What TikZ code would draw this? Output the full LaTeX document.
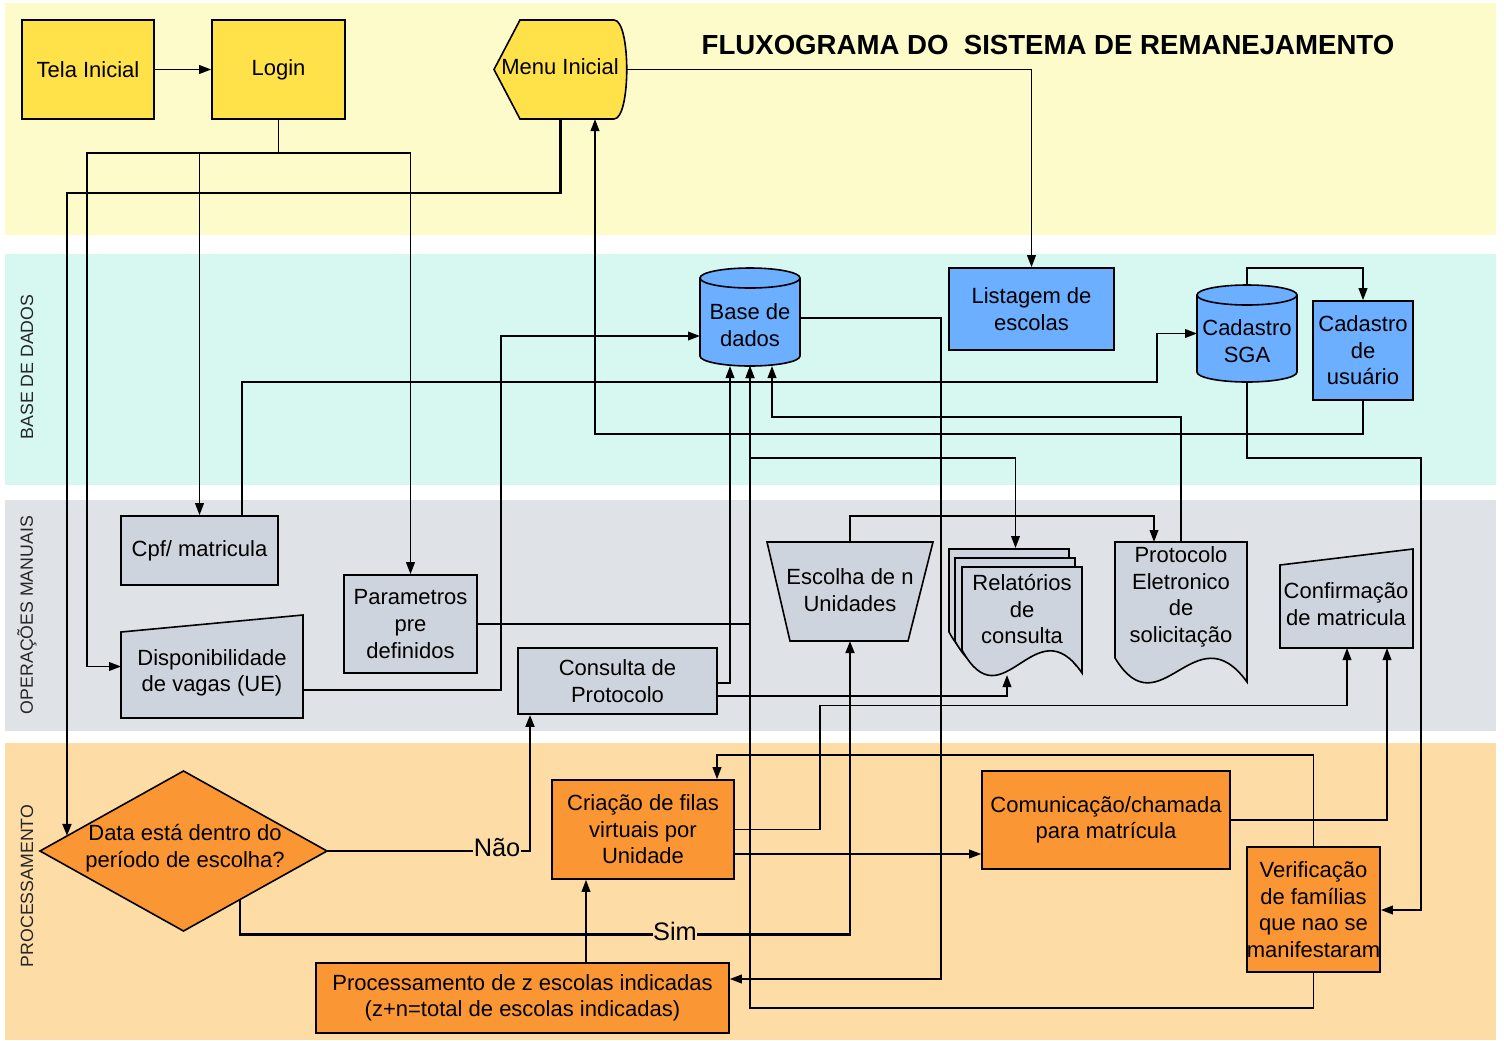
\documentclass[tikz,border=0pt]{standalone}
\usepackage{fontspec}
\setmainfont{Liberation Sans}
\usetikzlibrary{arrows.meta,calc}
\definecolor{bandY}{HTML}{FDFBC9}
\definecolor{nodeY}{HTML}{FFE14A}
\definecolor{bandC}{HTML}{D6F8F1}
\definecolor{nodeB}{HTML}{6CAEFF}
\definecolor{bandG}{HTML}{DFE2E7}
\definecolor{nodeG}{HTML}{CED4DD}
\definecolor{bandO}{HTML}{FEDCA6}
\definecolor{nodeO}{HTML}{FB9634}
\newcommand\dnfont{\fontsize{16.5}{19.9}\selectfont}
\begin{document}
\begin{tikzpicture}[x=0.75pt,y=-0.75pt,
  ln/.style={draw=black,line width=1.25pt},
  arr/.style={ln,-{Triangle[length=9pt,width=6.5pt]}},
  tk/.style={line width=1.9pt},
  shp/.style={draw=black,line width=1.2pt},
  sz/.style 2 args={minimum width=#1*0.75pt,minimum height=#2*0.75pt},
  rbox/.style={shp,rectangle,inner sep=0pt,align=center,font=\dnfont},
  bb/.style={rectangle,inner sep=0pt,outer sep=0pt},
  txt/.style={align=center,font=\dnfont,inner sep=0pt},
  band/.style={rotate=90,font=\fontsize{13.3}{16}\selectfont,inner sep=0pt,text=black!85},
  yn/.style={fill=bandO,font=\fontsize{19}{22}\selectfont,inner sep=0.5pt}
]
\useasboundingbox (0,0) rectangle (1504,1040);
\fill[white] (0,0) rectangle (1504,1040);
\fill[bandY] (5,3) rectangle (1496,235);
\fill[bandC] (5,254) rectangle (1496,485);
\fill[bandG] (5,500) rectangle (1496,731);
\fill[bandO] (5,743) rectangle (1496,1040);

\node[band] (lbBD) at (27,367) {BASE DE DADOS};
\node[band] (lbOM) at (27,615) {OPERAÇÕES MANUAIS};
\node[band] (lbPR) at (27,886) {PROCESSAMENTO};

\node[font=\bfseries\fontsize{20.7}{24}\selectfont,inner sep=0pt] (title) at (1048,45) {FLUXOGRAMA DO~ SISTEMA DE REMANEJAMENTO};

% rectangle nodes
\node[rbox,fill=nodeY,sz={132}{99}] (tela) at (88,69.5) {Tela Inicial};
\node[rbox,fill=nodeY,sz={133}{99}] (login) at (278.5,69.5) {Login};
\node[rbox,fill=nodeB,sz={165}{82}] (list) at (1031.5,309) {Listagem de\\escolas};
\node[rbox,fill=nodeB,sz={100}{99}] (cadu) at (1363,350.5) {Cadastro\\de\\usuário};
\node[rbox,fill=nodeG,sz={157}{69}] (cpf) at (199.5,550.5) {Cpf/ matricula};
\node[rbox,fill=nodeG,sz={133}{98}] (param) at (410.5,624) {Parametros\\pre\\definidos};
\node[rbox,fill=nodeG,sz={199}{66}] (cons) at (617.5,681) {Consulta de\\Protocolo};
\node[rbox,fill=nodeO,sz={182}{99}] (cria) at (643,829.5) {Criação de filas\\virtuais por\\Unidade};
\node[rbox,fill=nodeO,sz={248}{98}] (com) at (1106,820) {Comunicação/chamada\\para matrícula};
\node[rbox,fill=nodeO,sz={133}{125}] (verif) at (1313.5,909.5) {Verificação\\de famílias\\que nao se\\manifestaram};
\node[rbox,fill=nodeO,sz={413}{70}] (proc) at (522.5,998) {Processamento de z escolas indicadas\\(z+n=total de escolas indicadas)};

% bounding nodes of custom shapes
\node[bb,sz={133}{99}] (menu) at (560.5,69.5) {};
\node[bb,sz={100}{98}] (base) at (750,317) {};
\node[bb,sz={100}{97}] (sga) at (1247,333.5) {};
\node[bb,sz={182}{103}] (disp) at (212,666.5) {};
\node[bb,sz={166}{99}] (esc) at (850,591.5) {};
\node[bb,sz={133}{127}] (rel) at (1015.5,611.5) {};
\node[bb,sz={132}{140}] (prot) at (1181,612) {};
\node[bb,sz={133}{99}] (conf) at (1346.5,598.5) {};
\node[bb,sz={287}{160}] (dia) at (183.5,851) {};

% custom shapes
\filldraw[shp,fill=nodeY] (menu.west) -- (520,20) -- (614,20) .. controls (631,20) and (631,119) .. (614,119) -- (520,119) -- cycle;
\filldraw[shp,fill=nodeB] (700,278) -- (700,356) arc[start angle=180,end angle=0,x radius=50,y radius=10] -- (800,278) arc[start angle=0,end angle=-180,x radius=50,y radius=10] -- cycle;
\draw[shp] (700,278) arc[start angle=180,end angle=0,x radius=50,y radius=10];
\filldraw[shp,fill=nodeB] (1197,295) -- (1197,372) arc[start angle=180,end angle=0,x radius=50,y radius=10] -- (1297,295) arc[start angle=0,end angle=-180,x radius=50,y radius=10] -- cycle;
\draw[shp] (1197,295) arc[start angle=180,end angle=0,x radius=50,y radius=10];
\filldraw[shp,fill=nodeG] (disp.south west) -- (121,632) -- (disp.north east) -- (disp.south east) -- cycle;
\filldraw[shp,fill=nodeG] (conf.south west) -- (1280,565) -- (conf.north east) -- (conf.south east) -- cycle;
\filldraw[shp,fill=nodeG] (767,542) -- (933,542) -- (908,641) -- (790,641) -- cycle;
\filldraw[shp,fill=nodeG] (949,632) -- (949,549) -- (1069,549) -- (1069,655) .. controls (1022,586) and (990,707) .. (949,632) -- cycle;
\filldraw[shp,fill=nodeG] (955,641) -- (955,558) -- (1075,558) -- (1075,664) .. controls (1028,595) and (996,716) .. (955,641) -- cycle;
\filldraw[shp,fill=nodeG] (962,650) -- (962,567) -- (1082,567) -- (1082,673) .. controls (1035,604) and (1003,725) .. (962,650) -- cycle;
\filldraw[shp,fill=nodeG] (1115,658) -- (1115,542) -- (1247,542) -- (1247,682) .. controls (1195,610) and (1160,732) .. (1115,658) -- cycle;
\filldraw[shp,fill=nodeO] (dia.west) -- (dia.north) -- (dia.east) -- (dia.south) -- cycle;

% texts of custom shapes
\node[txt] (menuT) at (560,67) {Menu Inicial};
\node[txt] (baseT) at (750,325) {Base de\\dados};
\node[txt] (sgaT) at (1247,341) {Cadastro\\SGA};
\node[txt] (dispT) at (212,673) {Disponibilidade\\de vagas (UE)};
\node[txt] (escT) at (850,590) {Escolha de n\\Unidades};
\node[txt] (relT) at (1022,609) {Relatórios\\de\\consulta};
\node[txt] (protT) at (1181,597) {Protocolo\\Eletronico\\de\\solicitação};
\node[txt] (confT) at (1346,604) {Confirmação\\de matricula};
\node[txt] (diaT) at (185,848) {Data está dentro do\\período de escolha?};

% connectors
\coordinate (diaIn) at ($(dia.west)!0.188!(dia.north)$);
\coordinate (diaOut) at ($(dia.south)!0.395!(dia.east)$);
\draw[arr] (tela) -- (login);
\draw[arr] (login.south) -- ++(0,33) -| (cpf.north);
\draw[arr] (login.south) -- ++(0,33) -| (param.north);
\draw[arr] (login.south) -- ++(0,33) -- ++(-191.5,0) |- (disp.west);
\draw[arr,tk] (menu.south) -- ++(0,74) -| (diaIn);
\draw[arr] (menu.east) -| (list.north);
\draw[arr] (cadu.south) -- ++(0,33) -| (menu.south -| 595,0);
\draw[arr] (sga.north) -- ++(0,-17) -| (cadu.north);
\draw[arr] (cpf.north -| 242,0) -- ++(0,-133) -- ++(915,0) |- (sga.west);
\draw[arr] (disp.east |- 0,690) -- ++(198,0) |- (base.west |- 0,336);
\draw[arr] (param.east) -| (base.south);
\draw[arr] (verif.south) -- ++(0,35) -| (base.south);
\draw[arr] (base.south |- 0,458) -| (rel.north);
\draw[arr] (cons.east |- 0,683) -| (base.south -| 730,0);
\draw[arr] (cons.east |- 0,696) -| (rel.south -| 1007,0);
\draw[arr] (base.east |- 0,318) -- ++(141,0) |- (proc.east |- 0,979);
\draw[arr] (prot.north) -- ++(0,-125) -| (base.south -| 772,0);
\draw[arr] (esc.north) -- ++(0,-26) -| (prot.north -| 1154,0);
\draw[arr,tk] (diaOut) -- ++(0,35) -| (esc.south);
\draw[arr,tk] (dia.east) -| (cons.south -| 530,0);
\draw[arr] (proc.north -| 586,0) -- (cria.south -| 586,0);
\draw[arr] (cria.east) -- ++(85,0) -- ++(0,-124) -| (conf.south -| 1347,0);
\draw[arr] (cria.east |- 0,854) -- (com.west |- 0,854);
\draw[arr] (com.east) -| (conf.south -| 1387,0);
\draw[arr] (verif.north) -- ++(0,-91) -| (cria.north -| 717,0);
\draw[arr] (sga.south) -- ++(0,76) -- ++(174,0) |- (verif.east |- 0,910);

\node[yn] (sim) at (675,931) {Sim};
\node[yn] (nao) at (497,848) {Não};
\end{tikzpicture}
\end{document}
